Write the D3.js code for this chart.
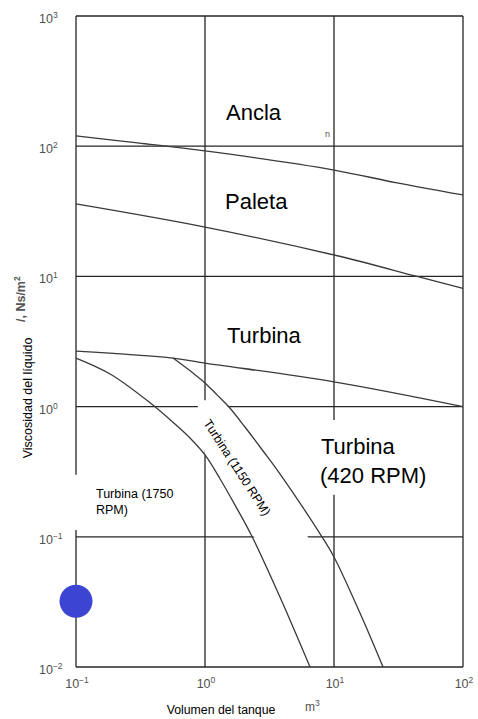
<!DOCTYPE html>
<html>
<head>
<meta charset="utf-8">
<script src="https://cdn.jsdelivr.net/npm/d3@7.9.0/dist/d3.min.js"></script>
<style>
  html, body { margin: 0; padding: 0; background: #fff; }
  svg { display: block; font-family: "Liberation Sans", Arial, sans-serif; }
</style>
</head>
<body>
<div id="chart"></div>
<script>
// tick values and their exponent labels
const xTicks = [0.1, 1, 10, 100];
const xTickExp = ["\u22121", "0", "1", "2"];
const yTicks = [0.01, 0.1, 1, 10, 100, 1000];
const yTickExp = ["\u22122", "\u22121", "0", "1", "2", "3"];

// curves: tank volume (m3) vs viscosity (Ns/m2)
const anclaVol = [0.1, 0.3, 1, 10, 30, 100];
const anclaVisc = [120, 106, 92, 65.6, 52.5, 42.2];

const paletaVol = [0.1, 1, 10, 44, 100];
const paletaVisc = [36, 23.9, 14.6, 10, 8.1];

const turbinaVol = [0.1, 0.565, 1, 10, 100];
const turbinaVisc = [2.67, 2.36, 2.16, 1.55, 1.0];

const rpm1150Vol = [0.565, 0.807, 1.0, 1.24, 1.535, 2.04, 2.82, 3.81, 8.07, 10, 15.9, 24];
const rpm1150Visc = [2.36, 1.81, 1.52, 1.23, 0.993, 0.697, 0.456, 0.304, 0.1, 0.07, 0.026, 0.01];

const rpm1750Vol = [0.1, 0.184, 0.375, 0.585, 0.765, 1.0, 1.31, 1.71, 2.31, 3.81, 6.52];
const rpm1750Visc = [2.36, 1.78, 1.07, 0.735, 0.574, 0.425, 0.278, 0.175, 0.101, 0.0345, 0.01];

// the blue marker point
const dotVol = [0.1];
const dotVisc = [0.032];

const width = 478, height = 719;
const area = { left: 76, right: 463, top: 16, bottom: 667 };

const svg = d3.select("#chart").append("svg")
    .attr("width", width)
    .attr("height", height);

const x = d3.scaleLog().domain([0.1, 100]).range([area.left, area.right]);
const y = d3.scaleLog().domain([0.01, 1000]).range([area.bottom, area.top]);

// gridlines (they also make the frame)
const grid = svg.append("g").attr("stroke", "#262626").attr("stroke-width", 1.3);
grid.selectAll("line.v").data(xTicks).join("line")
    .attr("x1", d => x(d)).attr("x2", d => x(d))
    .attr("y1", area.top).attr("y2", area.bottom);
grid.selectAll("line.h").data(yTicks).join("line")
    .attr("y1", d => y(d)).attr("y2", d => y(d))
    .attr("x1", area.left).attr("x2", area.right);

// white patches behind labels that hide parts of the grid (given in data units)
const covers = [
    [[0.88, 1.12], [1.40, 1.12], [6.5, 0.094], [2.48, 0.094], [1.0, 0.425], [0.88, 0.9]],
    [[6.74, 0.79], [66, 0.79], [66, 0.21], [6.74, 0.21]],
    [[0.075, 0.30], [0.766, 0.30], [0.766, 0.113], [0.075, 0.113]]
];
svg.append("g").selectAll("path").data(covers).join("path")
    .attr("fill", "#fff")
    .attr("d", d => "M" + d.map(p => [x(p[0]), y(p[1])].join(",")).join("L") + "Z");

// curves
const curves = [
    [anclaVol, anclaVisc],
    [paletaVol, paletaVisc],
    [turbinaVol, turbinaVisc],
    [rpm1150Vol, rpm1150Visc],
    [rpm1750Vol, rpm1750Visc]
];
const line = d3.line()
    .x(d => x(d[0]))
    .y(d => y(d[1]))
    .curve(d3.curveCatmullRom.alpha(0.5));

svg.append("g").selectAll("path").data(curves).join("path")
    .attr("fill", "none")
    .attr("stroke", "#3a3a3a")
    .attr("stroke-width", 1.3)
    .attr("d", c => line(c[0].map((v, i) => [v, c[1][i]])));

// blue dot
svg.selectAll("circle.dot").data(dotVol).join("circle")
    .attr("cx", d => x(d))
    .attr("cy", (d, i) => y(dotVisc[i]))
    .attr("r", 16.5)
    .attr("fill", "#3b45d2");

// tick labels with superscript exponents
const tickStyle = sel => sel.attr("fill", "#505050").attr("font-size", 12.5);

xTicks.forEach((t, i) => {
    const txt = svg.append("text").call(tickStyle)
        .attr("x", x(t) + 1).attr("y", 688)
        .attr("text-anchor", "middle");
    txt.append("tspan").text("10");
    txt.append("tspan").attr("dy", -5).attr("font-size", 8.5).text(xTickExp[i]);
});

yTicks.forEach((t, i) => {
    const txt = svg.append("text").call(tickStyle)
        .attr("x", 39).attr("y", y(t) + 7);
    txt.append("tspan").text("10");
    txt.append("tspan").attr("dy", -5).attr("font-size", 8.5).text(yTickExp[i]);
});

// curve labels
const big = 22;
svg.append("text").attr("x", 226).attr("y", 120).attr("font-size", big).text("Ancla");
svg.append("text").attr("x", 225).attr("y", 209).attr("font-size", big).text("Paleta");
svg.append("text").attr("x", 227).attr("y", 343).attr("font-size", big).text("Turbina");
svg.append("text").attr("x", 321).attr("y", 454).attr("font-size", big).text("Turbina");
svg.append("text").attr("x", 320).attr("y", 483).attr("font-size", big).text("(420 RPM)");

svg.append("text").attr("x", 96).attr("y", 498).attr("font-size", 12.5).text("Turbina (1750");
svg.append("text").attr("x", 96).attr("y", 514).attr("font-size", 12.5).text("RPM)");

svg.append("text")
    .attr("transform", "translate(203,423) rotate(57)")
    .attr("font-size", 12.5)
    .text("Turbina (1150 RPM)");

svg.append("text").attr("x", 325).attr("y", 137).attr("font-size", 9)
    .attr("fill", "#555").text("n");

// axis titles
svg.append("text")
    .attr("x", 221).attr("y", 714)
    .attr("text-anchor", "middle")
    .attr("font-size", 12.3)
    .text("Volumen del tanque");

const m3 = svg.append("text").attr("x", 305).attr("y", 711)
    .attr("font-size", 12).attr("fill", "#505050");
m3.append("tspan").text("m");
m3.append("tspan").attr("dy", -5).attr("font-size", 8.5).text("3");

svg.append("text")
    .attr("transform", "translate(32,398) rotate(-90)")
    .attr("text-anchor", "middle")
    .attr("font-size", 12.5)
    .text("Viscosidad del l\u00edquido");

const unit = svg.append("text")
    .attr("transform", "translate(25,322) rotate(-90)")
    .attr("font-size", 12.5)
    .attr("font-weight", "bold")
    .attr("fill", "#555");
unit.append("tspan").text("/, Ns/m");
unit.append("tspan").attr("dy", -5).attr("font-size", 8.5).text("2");
</script>
</body>
</html>
